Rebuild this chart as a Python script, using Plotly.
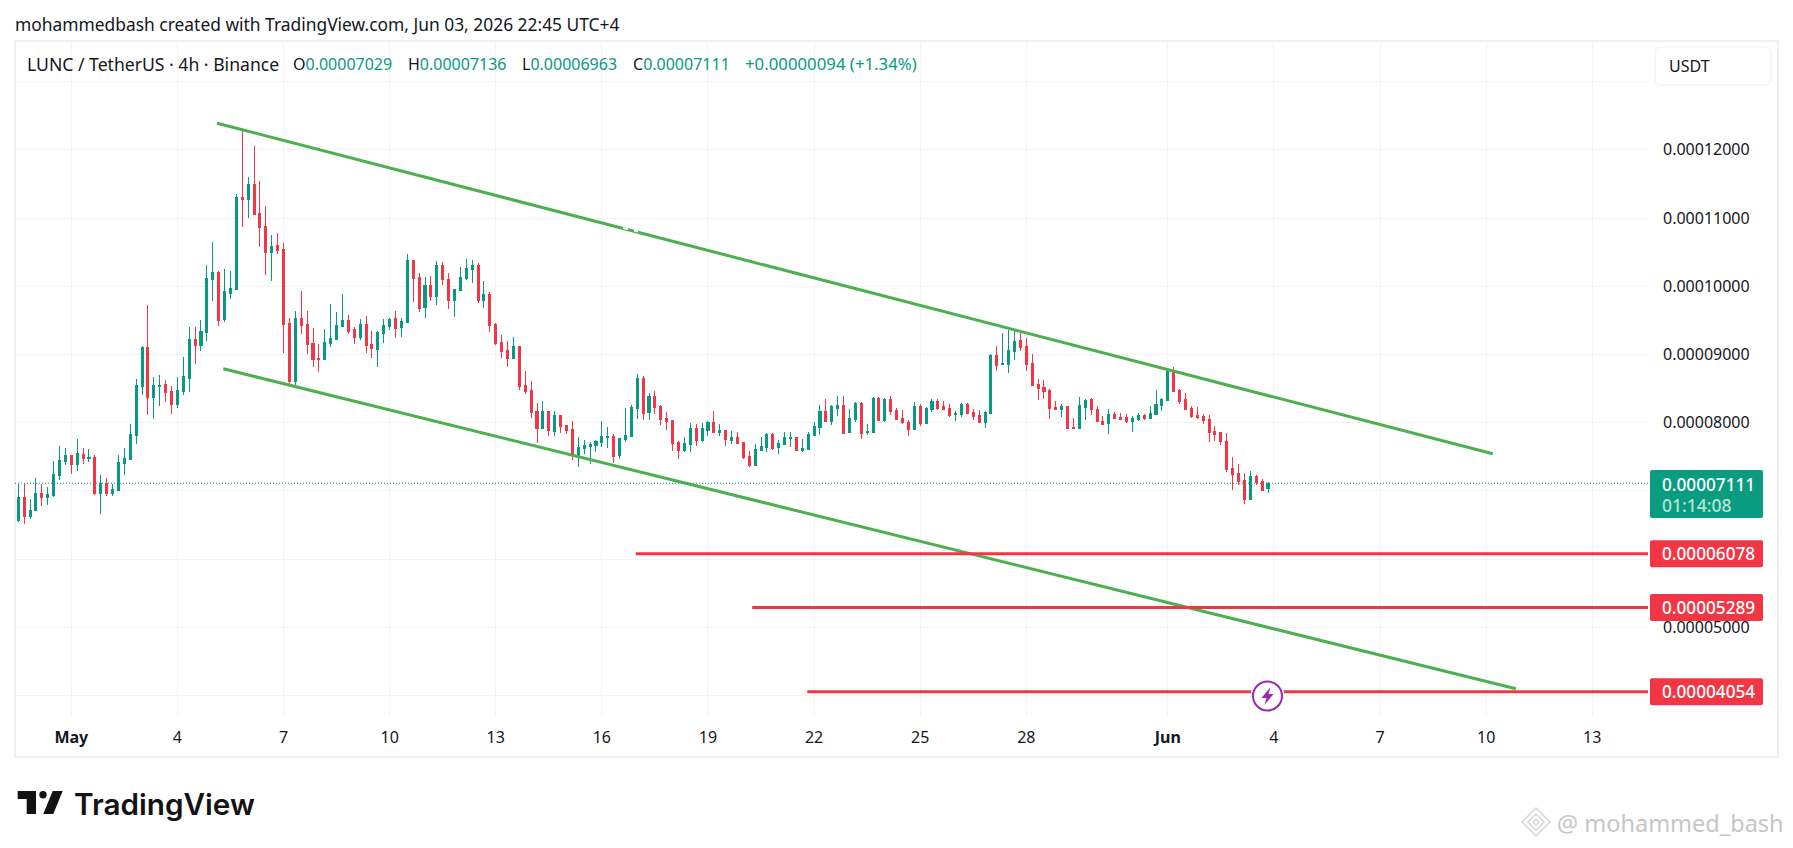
import pandas as pd
import plotly.graph_objects as go

# prices are in units of 0.00000001 USDT
PRICE_UNIT = 1e-8

open_prices = [
    6568, 6905, 6627, 6705, 6964, 6905, 6934, 7227, 7437, 7520,
    7393, 7535, 7477, 7491, 6968, 7110, 6968, 7012, 7403, 7462,
    7818, 8536, 9103, 8375, 8536, 8561, 8458, 8273, 8463, 8654,
    9220, 9132, 9328, 10105, 10202, 9518, 9899, 9953, 11301, 11277,
    11492, 11067, 10876, 10500, 10598, 10539, 9455, 8605, 9528, 9440,
    9162, 8942, 8932, 9162, 9220, 9416, 9499, 9367, 9255, 9440,
    9147, 9079, 9313, 9416, 9528,
    9394, 9463, 10371, 10122, 9687, 10005, 9844, 10298, 10093, 9785,
    9931, 10107, 10239, 10298, 9785, 9873, 9433, 9169, 9052, 8935,
    9111, 8539, 8466, 8158, 7909, 8158, 7865, 8100, 7953, 7894,
    7499, 7616, 7645, 7660, 7704, 7777, 7792, 7513, 7748, 7792,
    8202, 8642, 8144, 8378, 8232, 8056, 8026, 7704, 7587, 7675,
    7909, 7733, 7880, 7997, 7850, 7880, 7733, 7777, 7704, 7499,
    7367, 7587, 7631, 7821, 7631, 7675, 7768, 7777,
    7598, 7612, 7818, 7935, 8169, 8023, 8213, 8257, 7862, 8052,
    8287, 7862, 7862, 8360, 8037, 8345, 8184, 8067, 8008, 7905,
    8243, 7993, 8199, 8316, 8243, 8213, 8125, 8125, 8272, 8155,
    8111, 8008, 8140, 8990, 8858, 8858, 9049, 9210, 9122, 8873,
    8565, 8521, 8477, 8228, 8199, 8243, 7935, 7920, 8228, 8345,
    8199, 8023, 7993, 8125, 8081, 8081, 8023, 8052, 8111, 8067,
    8125, 8257, 8330, 8755, 8477, 8345, 8213, 8111, 8096, 8052,
    7876, 7862, 7730, 7334, 7261, 7158, 6880, 7217, 7143, 7029,
]
high_prices = [
    7095, 7105, 6876, 7183, 7105, 7052, 7433, 7652, 7623, 7525,
    7755, 7623, 7608, 7520, 7227, 7183, 7095, 7520, 7623, 7975,
    8634, 9118, 9719, 8664, 8693, 8620, 8532, 8664, 8957, 9396,
    9396, 9499, 10305, 10642, 10217, 10246, 10217, 11345, 12298, 11595,
    12049, 11536, 11170, 10745, 10774, 10627, 9528, 9631, 9924, 9631,
    9382, 9147, 9367, 9733, 9616, 9880, 9572, 9396, 9513, 9557,
    9338, 9338, 9513, 9528, 9631,
    9536, 10474, 10386, 10195, 10137, 10151, 10371, 10356, 10195, 9961,
    10283, 10400, 10386, 10342, 10078, 9917, 9463, 9287, 9199, 9257,
    9125, 8759, 8613, 8290, 8319, 8173, 8173, 8105, 7968, 8026,
    7792, 7748, 7719, 7748, 8026, 7938, 7836, 7768, 8217, 8261,
    8715, 8686, 8437, 8466, 8261, 8158, 8041, 7733, 7792, 7997,
    7982, 7997, 8026, 8173, 7982, 7885, 7880, 7865, 7719, 7587,
    7689, 7792, 7850, 7850, 7748, 7865, 7865, 7792,
    7759, 7862, 8008, 8257, 8345, 8257, 8389, 8389, 8199, 8301,
    8301, 7979, 8374, 8374, 8360, 8389, 8213, 8184, 8037, 8301,
    8272, 8228, 8345, 8345, 8316, 8272, 8169, 8287, 8287, 8199,
    8184, 8169, 9005, 9122, 9312, 9356, 9356, 9356, 9239, 9005,
    8638, 8624, 8492, 8316, 8272, 8248, 8067, 8374, 8345, 8360,
    8243, 8096, 8199, 8155, 8140, 8125, 8096, 8140, 8125, 8243,
    8477, 8360, 8770, 8814, 8492, 8433, 8243, 8228, 8125, 8111,
    7949, 7866, 7847, 7495, 7393, 7261, 7290, 7231, 7173, 7136,
]
low_prices = [
    6543, 6514, 6587, 6700, 6778, 6793, 6910, 7159, 7379, 7247,
    7291, 7393, 7423, 6939, 6661, 6925, 6925, 7007, 7232, 7452,
    7687, 8400, 8112, 8053, 8243, 8302, 8126, 8214, 8405, 8449,
    8859, 9049, 9196, 9782, 9416, 9475, 9811, 9943, 10867, 10999,
    11043, 10574, 10163, 10075, 10471, 9020, 8566, 8546, 9299, 9005,
    8815, 8742, 8927, 9108, 9211, 9410, 9299, 9152, 9211, 9020,
    8947, 8815, 9167, 9352, 9240,
    9262, 9458, 9770, 9624, 9541, 9785, 9726, 10019, 9668, 9550,
    9925, 10093, 10049, 9756, 9682, 9331, 9140, 8950, 8818, 8930,
    8481, 8422, 8070, 7704, 7905, 7806, 7806, 7850, 7836, 7455,
    7352, 7543, 7396, 7572, 7645, 7631, 7411, 7469, 7719, 7790,
    8056, 8041, 8041, 8129, 7968, 7894, 7587, 7469, 7572, 7572,
    7660, 7719, 7806, 7850, 7806, 7660, 7689, 7689, 7469, 7352,
    7362, 7582, 7572, 7601, 7543, 7670, 7645, 7587,
    7568, 7610, 7815, 7818, 8023, 7964, 8096, 7832, 7847, 8008,
    7759, 7818, 7858, 8023, 8008, 8111, 8037, 7979, 7803, 7900,
    7949, 7988, 8155, 8184, 8184, 8081, 8023, 8081, 8140, 8037,
    7993, 7920, 8135, 8755, 8855, 8726, 8917, 9049, 8755, 8536,
    8330, 8345, 8052, 8184, 8081, 7920, 7905, 7915, 8037, 8111,
    8008, 7964, 7832, 8052, 8037, 7993, 7862, 8023, 8037, 8052,
    8111, 8169, 8316, 8448, 8272, 8199, 8067, 8052, 7979, 7715,
    7730, 7671, 7275, 7011, 7085, 6806, 6875, 7085, 6997, 6963,
]
close_prices = [
    6905, 6631, 6714, 6964, 6905, 6949, 7242, 7447, 7520, 7393,
    7550, 7477, 7491, 6968, 7110, 6968, 7022, 7418, 7477, 7828,
    8546, 9103, 8375, 8546, 8546, 8444, 8273, 8473, 8678, 9220,
    9132, 9338, 10114, 10202, 9504, 9924, 9968, 11301, 11277, 11492,
    11052, 10867, 10500, 10583, 10530, 9445, 8605, 9528, 9430, 9152,
    8932, 8927, 9176, 9235, 9425, 9499, 9343, 9255, 9440, 9137,
    9093, 9323, 9425, 9513, 9387,
    9477, 10371, 10107, 9668, 10005, 9844, 10298, 10093, 9785, 9946,
    10122, 10254, 10298, 9785, 9873, 9419, 9155, 9037, 8935, 9111,
    8525, 8451, 8144, 7909, 8158, 7880, 8100, 7938, 7880, 7513,
    7631, 7660, 7675, 7719, 7792, 7792, 7499, 7763, 7806, 8217,
    8642, 8129, 8378, 8217, 8041, 8012, 7689, 7587, 7689, 7909,
    7733, 7909, 7997, 7850, 7880, 7748, 7777, 7689, 7484, 7367,
    7601, 7645, 7821, 7616, 7689, 7777, 7777, 7587,
    7627, 7832, 7949, 8169, 8023, 8243, 8257, 7847, 8067, 8287,
    7847, 7876, 8360, 8037, 8345, 8169, 8052, 8008, 7905, 8243,
    7993, 8213, 8316, 8213, 8199, 8111, 8140, 8272, 8140, 8096,
    8008, 8155, 8990, 8843, 8873, 9063, 9195, 9107, 8858, 8550,
    8506, 8462, 8213, 8199, 8243, 7920, 7920, 8257, 8330, 8199,
    8023, 7979, 8125, 8067, 8052, 8023, 8067, 8111, 8067, 8140,
    8272, 8345, 8755, 8462, 8316, 8199, 8096, 8081, 8037, 7862,
    7832, 7730, 7319, 7246, 7143, 6880, 7217, 7129, 7011, 7111,
]
bar_times = pd.date_range("2026-04-29 12:00", periods=len(open_prices), freq="4h")

tick_dates = ["2026-05-01", "2026-05-04", "2026-05-07", "2026-05-10", "2026-05-13",
              "2026-05-16", "2026-05-19", "2026-05-22", "2026-05-25", "2026-05-28",
              "2026-06-01", "2026-06-04", "2026-06-07", "2026-06-10", "2026-06-13"]
tick_labels = ["<b>May</b>", "4", "7", "10", "13", "16", "19", "22", "25", "28",
               "<b>Jun</b>", "4", "7", "10", "13"]
price_ticks = [4000, 5000, 6000, 7000, 8000, 9000, 10000, 11000, 12000, 13000]
# these levels sit behind a price tag or the USDT button in the picture
hidden_ticks = [4000, 6000, 7000, 13000]

# drawn channel and support levels
upper_line_dates = ["2026-05-05 02:53", "2026-06-10 04:30"]
upper_line_prices = [12390, 7543]
lower_line_dates = ["2026-05-05 07:10", "2026-06-10 20:10"]
lower_line_prices = [8789, 4098]
level_prices = [6078, 5289, 4054]
level_starts = ["2026-05-16 23:00", "2026-05-20 06:00", "2026-05-21 19:24"]
last_price = 7111
countdown = "01:14:08"

header_text = "mohammedbash created with TradingView.com, Jun 03, 2026 22:45 UTC+4"
symbol_text = "LUNC / TetherUS · 4h · Binance"
ohlc_labels = ["O", "H", "L", "C"]
ohlc_values = ["0.00007029", "0.00007136", "0.00006963", "0.00007111"]
change_text = "+0.00000094 (+1.34%)"

UP = "#089981"
DOWN = "#f23645"
INK = "#131722"
GRID = "#f3f3f3"
FONT = "Noto Sans"
W, H = 1793, 848
LEFT, RIGHT, TOP, BOTTOM = 15, 1648, 41, 716
X_RANGE = ["2026-04-29 09:48", "2026-06-14 13:50"]
Y_RANGE = [3699, 13595]


def prices(values):
    return [v * PRICE_UNIT for v in values]


def px(x):
    return (x - LEFT) / (RIGHT - LEFT)


def py(y):
    return (BOTTOM - y) / (BOTTOM - TOP)


def price_y(value):
    return BOTTOM - (value - Y_RANGE[0]) / (Y_RANGE[1] - Y_RANGE[0]) * (BOTTOM - TOP)


def poly(points):
    return "M " + " L ".join(f"{px(x):.5f},{py(y):.5f}" for x, y in points) + " Z"


def round_rect(x0, y0, x1, y1, r):
    def p(x, y):
        return f"{px(x):.5f},{py(y):.5f}"
    return (f"M {p(x0 + r, y0)} L {p(x1 - r, y0)} Q {p(x1, y0)} {p(x1, y0 + r)} "
            f"L {p(x1, y1 - r)} Q {p(x1, y1)} {p(x1 - r, y1)} L {p(x0 + r, y1)} "
            f"Q {p(x0, y1)} {p(x0, y1 - r)} L {p(x0, y0 + r)} Q {p(x0, y0)} {p(x0 + r, y0)} Z")


def circle(cx, cy, r, fill, line=None, width=0):
    return dict(type="circle", xref="paper", yref="paper", layer="above",
                x0=px(cx - r), x1=px(cx + r), y0=py(cy + r), y1=py(cy - r),
                fillcolor=fill, line=dict(color=line or fill, width=width))


def path_shape(path, fill, line=None, width=0):
    return dict(type="path", xref="paper", yref="paper", layer="above", path=path,
                fillcolor=fill, line=dict(color=line or fill, width=width))


def text_at(x, y, text, color=INK, size=16, anchor="left", **font):
    return dict(xref="paper", yref="paper", x=px(x - 2.5), y=py(y), text=text, showarrow=False,
                xanchor=anchor, yanchor="middle", align="left",
                font=dict(family=font.get("family", FONT), size=size, color=color,
                          weight=font.get("weight", 400)))


fig = go.Figure()

fig.add_trace(go.Candlestick(
    x=bar_times,
    open=prices(open_prices), high=prices(high_prices),
    low=prices(low_prices), close=prices(close_prices),
    increasing=dict(line=dict(color=UP, width=1), fillcolor=UP),
    decreasing=dict(line=dict(color=DOWN, width=1), fillcolor=DOWN),
    whiskerwidth=0, hoverinfo="skip", showlegend=False,
))

# channel
for dates, values in [(upper_line_dates, upper_line_prices), (lower_line_dates, lower_line_prices)]:
    fig.add_trace(go.Scatter(x=dates, y=prices(values), mode="lines", hoverinfo="skip",
                             line=dict(color="#4caf50", width=3), showlegend=False))

# support levels
for start, level in zip(level_starts, level_prices):
    fig.add_trace(go.Scatter(x=[start, X_RANGE[1]], y=prices([level, level]), mode="lines",
                             hoverinfo="skip", line=dict(color=DOWN, width=3), showlegend=False))

shapes = [
    # last price line
    dict(type="line", xref="paper", yref="y", x0=0, x1=1, layer="above",
         y0=last_price * PRICE_UNIT, y1=last_price * PRICE_UNIT,
         line=dict(color=UP, width=1, dash="1px,2px")),
    # outer frame
    dict(type="rect", xref="paper", yref="paper", layer="below",
         x0=px(15), x1=px(1778), y0=py(757), y1=py(41), line=dict(color="#f0f0f0", width=2)),
    # USDT button
    path_shape(round_rect(1655, 47, 1771, 85, 6), "#ffffff", "#f0f0f0", 1),
    # last price tag
    path_shape(round_rect(1650, 470, 1763, 518, 2), "#0a9c80"),
    # small white scuffs over the upper channel line
    path_shape(poly([(623, 227), (628, 228), (628, 230), (623, 229)]), "#ffffff"),
    path_shape(poly([(634, 229.5), (638, 230.5), (638, 232.5), (634, 231.5)]), "#ffffff"),
]

annotations = [
    text_at(15, 23.5, header_text, size=17.4),
    text_at(27, 64, symbol_text, size=17.6),
    text_at(1669, 66, "USDT", size=16),
    text_at(1663, 484, "0.00007111", color="#ffffff", size=17.2, weight=500),
    text_at(1663, 505, countdown, color="#b5e3d8", size=17.5, weight=500),
]

# OHLC readout
for x, label, value in zip([293, 408, 522, 633], ohlc_labels, ohlc_values):
    annotations.append(text_at(x, 64, f'{label}<span style="color:{UP}">{value}</span>', size=16))
annotations.append(text_at(745, 64, change_text, color=UP, size=16.8))

# level tags
for level in level_prices:
    y = price_y(level)
    shapes.append(path_shape(round_rect(1650, y - 13.5, 1763, y + 13.5, 2), DOWN))
    annotations.append(text_at(1663, y, f"{level * PRICE_UNIT:.8f}", color="#ffffff", size=17.2, weight=500))

# lightning marker on the lowest level
cx, cy = 1267.5, 696
shapes.append(circle(cx, cy, 17, "#ffffff"))
shapes.append(circle(cx, cy, 14.5, "#ffffff", "#9c27b0", 2))
bolt = [(3, -9), (-6, 2), (-1, 2), (-3, 9), (6, -2), (1, -2)]
shapes.append(path_shape(poly([(cx + a, cy + b) for a, b in bolt]), "#9c27b0"))

# TradingView logo
shapes.append(path_shape(poly([(17.7, 791), (36, 791), (36, 814), (26.7, 814), (26.7, 799), (17.7, 799)]), "#131313"))
shapes.append(circle(43, 794.7, 3.7, "#131313"))
shapes.append(path_shape(poly([(52.7, 791), (62.7, 791), (53.3, 814), (43.3, 814)]), "#131313"))
annotations.append(text_at(74, 804, "TradingView", color="#131313", size=29.7, family="Inter", weight=600))

# watermark
for r, w in [(14, 1.5), (8, 1.5), (3, 1.5)]:
    diamond = [(1536, 822 - r), (1536 + r, 822), (1536, 822 + r), (1536 - r, 822)]
    shapes.append(path_shape(poly(diamond), "rgba(0,0,0,0)", "#d6d6d6", w))
annotations.append(text_at(1557, 823, "@ mohammed_bash", color="#c6c6c6", size=23.5))

fig.update_layout(
    width=W, height=H,
    margin=dict(l=LEFT, r=W - RIGHT, t=TOP, b=H - BOTTOM, pad=0),
    paper_bgcolor="#ffffff", plot_bgcolor="#ffffff",
    boxgap=0.5,
    showlegend=False,
    font=dict(family=FONT, color=INK, size=16),
    shapes=shapes,
    annotations=annotations,
    xaxis=dict(
        type="date", range=X_RANGE, rangeslider=dict(visible=False),
        tickmode="array", tickvals=tick_dates, ticktext=tick_labels,
        showgrid=True, gridcolor=GRID, gridwidth=1, zeroline=False, showline=False,
        ticks="", ticklabelstandoff=10, tickfont=dict(family=FONT, size=16, color=INK),
    ),
    yaxis=dict(
        side="right", range=prices(Y_RANGE),
        tickmode="array", tickvals=prices(price_ticks),
        ticktext=["" if v in hidden_ticks else f"{v * PRICE_UNIT:.8f}" for v in price_ticks],
        showgrid=True, gridcolor=GRID, gridwidth=1, zeroline=False, showline=False,
        ticks="", ticklabelstandoff=14, tickfont=dict(family=FONT, size=16, color=INK),
    ),
)

# crisp candles, no page margin
fig.write_html("out.html", config=dict(displayModeBar=False),
               post_script="document.body.style.margin='0';document.body.style.overflow='hidden';"
                           "document.querySelectorAll('.boxlayer path').forEach(function(p){"
                           "p.style.shapeRendering='crispEdges';});")
